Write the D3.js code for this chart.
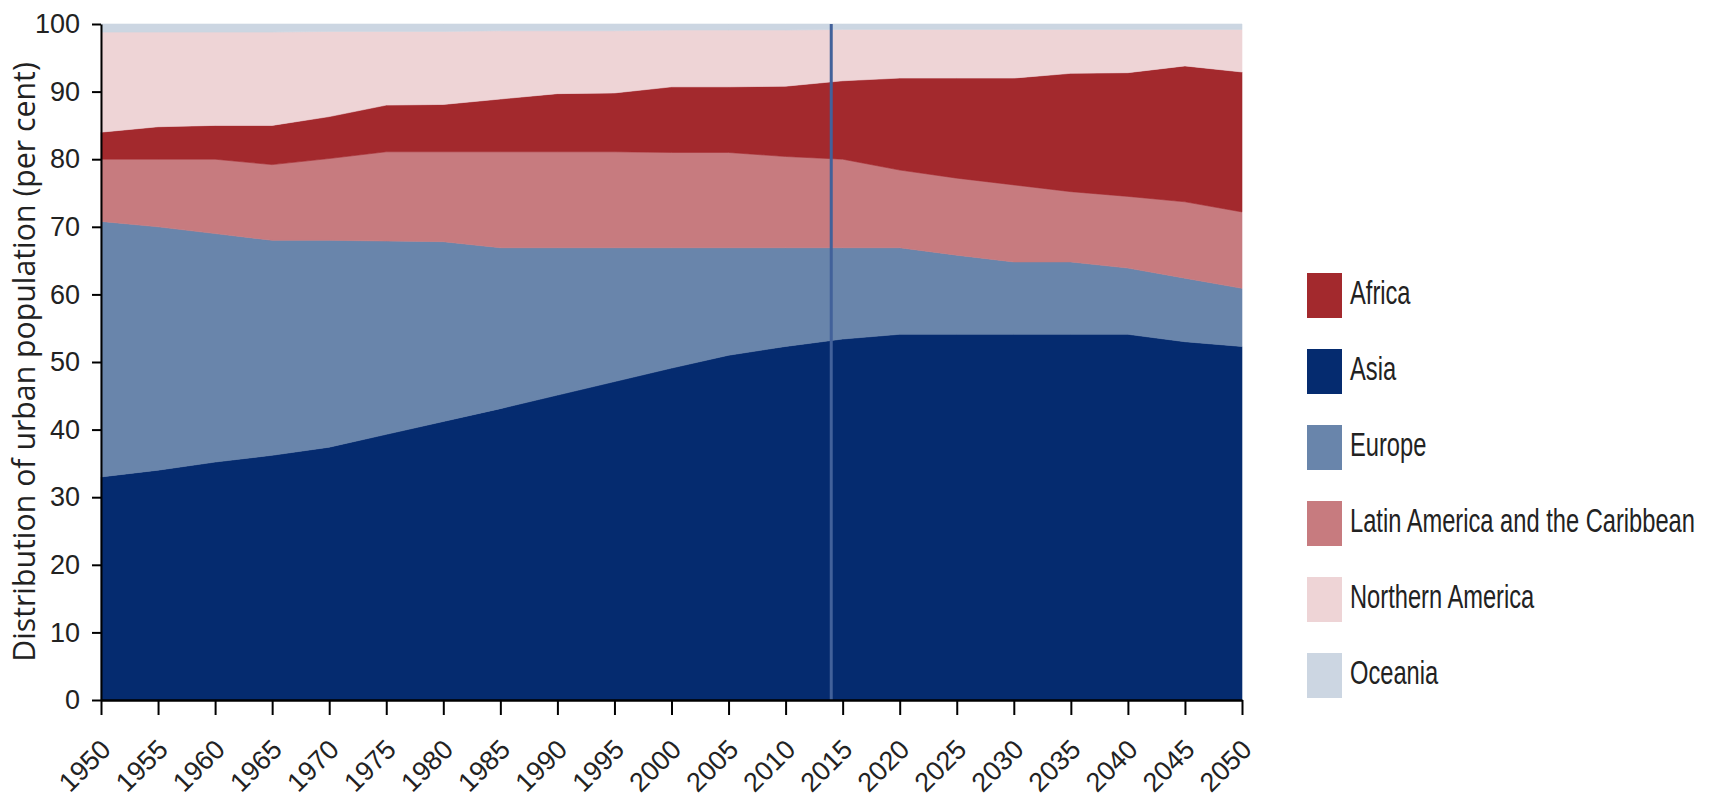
<!DOCTYPE html>
<html>
<head>
<meta charset="utf-8">
<script src="https://cdn.jsdelivr.net/npm/d3@7"></script>
<style>
  html, body { margin: 0; padding: 0; background: #ffffff; }
  svg { display: block; }
</style>
</head>
<body>
<svg id="chart" width="1710" height="811"></svg>
<script>
// ---- DATA (per cent of world urban population) ----
const years = [1950,1955,1960,1965,1970,1975,1980,1985,1990,1995,2000,2005,2010,2015,2020,2025,2030,2035,2040,2045,2050];
const asia    = [33.0,34.0,35.2,36.2,37.4,39.3,41.2,43.1,45.1,47.1,49.1,51.0,52.3,53.4,54.1,54.1,54.1,54.1,54.1,53.0,52.3];
const europe  = [37.8,36.0,33.8,31.8,30.6,28.6,26.6,23.8,21.8,19.8,17.8,15.9,14.6,13.5,12.8,11.7,10.7,10.7,9.8,9.4,8.6];
const latinAm = [9.2,10.0,11.0,11.2,12.1,13.2,13.3,14.2,14.2,14.2,14.1,14.1,13.5,13.1,11.5,11.4,11.4,10.4,10.6,11.3,11.3];
const africa  = [4.0,4.8,5.0,5.8,6.2,6.9,7.0,7.8,8.6,8.7,9.7,9.7,10.4,11.6,13.6,14.8,15.8,17.5,18.3,20.1,20.7];
const oceania = [1.2,1.2,1.2,1.2,1.1,1.1,1.1,1.0,1.0,1.0,0.9,0.9,0.9,0.8,0.8,0.8,0.8,0.8,0.8,0.8,0.8];
const northAm = years.map((yr,i) => +(100 - asia[i] - europe[i] - latinAm[i] - africa[i] - oceania[i]).toFixed(1));
const yTicks = [0,10,20,30,40,50,60,70,80,90,100];
const markerYear = 2014;
const yLabel = "Distribution of urban population (per cent)";

const stackOrder = ["Asia","Europe","Latin America and the Caribbean","Africa","Northern America","Oceania"];
const seriesData = {
  "Asia": asia, "Europe": europe, "Latin America and the Caribbean": latinAm,
  "Africa": africa, "Northern America": northAm, "Oceania": oceania
};
const legendOrder = ["Africa","Asia","Europe","Latin America and the Caribbean","Northern America","Oceania"];
const colors = {
  "Asia": "#052b6f",
  "Europe": "#6985ab",
  "Latin America and the Caribbean": "#c77b7f",
  "Africa": "#a3292d",
  "Northern America": "#eed4d6",
  "Oceania": "#ccd6e2"
};

// ---- LAYOUT ----
const svg = d3.select("#chart");
const mLeft = 101, mRight = 1242, mTop = 24, mBottom = 700;

const x = d3.scaleLinear().domain([1950, 2050]).range([mLeft, mRight]);
const y = d3.scaleLinear().domain([0, 100]).range([mBottom, mTop]);

const table = years.map((yr, i) => {
  const row = { year: yr };
  stackOrder.forEach(k => row[k] = seriesData[k][i]);
  return row;
});
const stacked = d3.stack().keys(stackOrder)(table);

const area = d3.area()
  .x(d => x(d.data.year))
  .y0(d => y(d[0]))
  .y1(d => y(d[1]));

svg.append("g").selectAll("path")
  .data(stacked)
  .join("path")
  .attr("d", area)
  .attr("fill", d => colors[d.key])
  .attr("stroke", d => colors[d.key])
  .attr("stroke-width", 0.6);

// marker line
svg.append("line")
  .attr("x1", x(markerYear)).attr("x2", x(markerYear))
  .attr("y1", y(100)).attr("y2", y(0))
  .attr("stroke", "#42619a")
  .attr("stroke-width", 3);

// ---- AXES ----
const tickFont = "'Liberation Sans Narrow', 'Liberation Sans', sans-serif";

const yAxis = svg.append("g")
  .attr("transform", `translate(${mLeft},0)`)
  .call(d3.axisLeft(y).tickValues(yTicks).tickSize(9).tickPadding(12).tickSizeOuter(0));
yAxis.select(".domain").attr("stroke", "#000").attr("stroke-width", 2);
yAxis.selectAll(".tick line").attr("stroke", "#000").attr("stroke-width", 2);
yAxis.selectAll(".tick text")
  .attr("font-family", tickFont).attr("font-size", 27).attr("fill", "#222");

const xAxis = svg.append("g")
  .attr("transform", `translate(0,${mBottom})`)
  .call(d3.axisBottom(x).tickValues(years).tickFormat(d3.format("d")).tickSize(15).tickSizeOuter(0));
xAxis.select(".domain").attr("stroke", "#000").attr("stroke-width", 2.5);
xAxis.selectAll(".tick line").attr("stroke", "#000").attr("stroke-width", 2);
xAxis.selectAll(".tick text")
  .attr("font-family", tickFont).attr("font-size", 27).attr("fill", "#222")
  .attr("x", 0).attr("y", 0).attr("dy", 0)
  .attr("text-anchor", "end")
  .attr("transform", "translate(11,51) rotate(-45)");

// y label
const yl = svg.append("text")
  .attr("transform", `translate(35,${(mTop + mBottom) / 2}) rotate(-90)`)
  .attr("text-anchor", "middle")
  .attr("font-family", "'Open Sans', sans-serif")
  .attr("font-size", 24)
  .attr("fill", "#222")
  .text(yLabel);
const ylen = yl.node().getComputedTextLength();
yl.attr("font-size", 24 * 600 / ylen);

// ---- LEGEND ----
const legend = svg.append("g");
const legTop = 273, legStep = 76;
const legItems = [];
legendOrder.forEach((k, i) => {
  const g = legend.append("g").attr("transform", `translate(1307,${legTop + i * legStep})`);
  g.append("rect").attr("width", 35).attr("height", 45).attr("fill", colors[k]);
  const t = g.append("text")
    .attr("x", 0).attr("y", 0)
    .attr("font-family", tickFont)
    .attr("font-size", 34)
    .attr("fill", "#222")
    .text(k);
  legItems.push(t);
});
// condense legend text horizontally to match reference widths
let refW = 0;
legItems.forEach(t => { if (t.text().startsWith("Latin")) refW = t.node().getComputedTextLength(); });
const sx = 345 / refW;
legItems.forEach(t => t.attr("transform", `translate(43,31) scale(${sx},1)`));
</script>
</body>
</html>
